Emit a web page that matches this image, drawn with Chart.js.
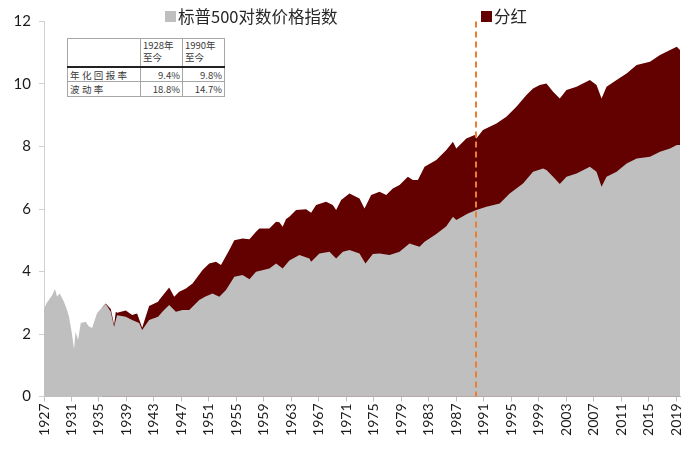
<!DOCTYPE html>
<html>
<head>
<meta charset="utf-8">
<script src="https://cdn.jsdelivr.net/npm/chart.js@4.4.1/dist/chart.umd.min.js"></script>
<style>
  html, body { margin: 0; padding: 0; background: #fff; }
  #wrap { position: relative; width: 685px; height: 450px; overflow: hidden; }
  #legend { position: absolute; top: 4px; left: 0; width: 685px; height: 26px;
    font-family: "Noto Sans CJK SC", sans-serif; font-size: 16.5px; color: #262626; }
  .li { position: absolute; top: 0; white-space: nowrap; line-height: 24px; }
  .sw { display: inline-block; width: 11px; height: 11px; vertical-align: middle; margin-right: 2px; position: relative; top: -2px; }
  #tbl { position: absolute; left: 67px; top: 38px; border-collapse: collapse;
    font-family: "Noto Sans CJK SC", sans-serif; font-size: 9.5px; color: #3a3a3a; background: #fff; }
  #tbl td { border: 1px solid #a6a6a6; padding: 0 2px; line-height: 12px; }
  #tbl tr.h td { height: 27px; border-bottom: 2px solid #222; vertical-align: top; }
  #tbl td.l { width: 68px; letter-spacing: 2.4px; }
  #tbl td.n { width: 37px; text-align: right; }
  #tbl tr.r1 td { height: 13px; }
  #tbl tr.r2 td { height: 14px; }
</style>
</head>
<body>
<div id="wrap">
  <canvas id="c" width="685" height="450"></canvas>
  <div id="legend"></div>
  <table id="tbl"></table>
</div>
<script>
// ---------------- data ----------------
const seriesNames = ["标普500对数价格指数", "分红"];

const priceYears = [1927.0,1927.4,1927.73,1928.2,1928.6,1928.9,1929.3,1929.9,1930.3,1930.64,1931.0,1931.37,1931.6,1931.96,1932.35,1933.08,1933.5,1934.0,1934.73,1935.45,1935.99,1936.72,1937.2,1937.64,1938.9,1939.83,1940.85,1941.29,1942.3,1943.6,1944.4,1945.22,1946.2,1947.16,1948.14,1949.6,1950.5,1951.53,1952.51,1953.49,1954.7,1955.9,1956.9,1957.86,1959.8,1960.78,1961.74,1962.71,1964.17,1965.63,1965.88,1967.09,1968.55,1969.52,1970.49,1971.46,1972.92,1973.79,1974.86,1975.83,1977.29,1978.75,1980.2,1981.66,1982.39,1984.1,1985.56,1986.52,1987.01,1988.7,1989.93,1991.39,1993.33,1994.78,1996.72,1998.18,1999.64,2000.13,2001.1,2002.07,2003.05,2004.51,2006.45,2007.42,2008.15,2008.88,2010.34,2011.8,2013.26,2015.2,2016.66,2018.12,2019.1,2019.57];
const priceValues = [2.8,3.0,3.1,3.25,3.44,3.2,3.3,3.03,2.8,2.55,2.1,1.52,2.07,1.81,2.35,2.39,2.25,2.19,2.67,2.85,2.96,2.71,2.23,2.6,2.55,2.45,2.35,2.13,2.45,2.55,2.75,2.93,2.71,2.77,2.77,3.09,3.2,3.3,3.19,3.41,3.83,3.89,3.75,3.99,4.1,4.26,4.1,4.35,4.53,4.42,4.31,4.58,4.63,4.42,4.63,4.69,4.58,4.26,4.56,4.58,4.53,4.63,4.9,4.79,4.95,5.2,5.45,5.75,5.65,5.86,5.97,6.07,6.18,6.5,6.82,7.19,7.3,7.25,7.03,6.8,7.03,7.14,7.35,7.19,6.71,7.03,7.19,7.46,7.62,7.67,7.83,7.94,8.05,8.05];

const totalYears = [1935.45,1935.99,1936.72,1937.2,1937.45,1937.64,1938.9,1939.83,1940.55,1941.29,1942.3,1943.6,1943.76,1945.22,1945.95,1946.68,1947.66,1948.62,1950.08,1951.05,1952.03,1952.76,1953.97,1954.7,1955.9,1956.9,1957.86,1958.34,1959.8,1960.78,1961.26,1961.74,1962.23,1962.71,1963.69,1965.15,1965.88,1966.6,1968.06,1969.03,1969.52,1970.25,1971.46,1972.92,1973.65,1974.62,1975.83,1976.81,1977.77,1978.75,1979.96,1980.69,1981.42,1982.39,1984.1,1985.56,1986.52,1987.01,1988.47,1989.68,1989.93,1990.89,1992.85,1994.3,1995.76,1997.22,1998.18,1999.16,2000.13,2001.1,2002.07,2003.05,2004.51,2006.45,2007.42,2008.15,2008.88,2010.34,2011.8,2013.26,2015.2,2016.66,2018.12,2019.1,2019.57];
const totalValues = [2.85,2.98,2.8,2.3,2.71,2.68,2.75,2.61,2.66,2.2,2.9,3.03,3.09,3.49,3.19,3.35,3.46,3.62,4.05,4.26,4.31,4.21,4.69,5.0,5.06,5.03,5.27,5.38,5.38,5.59,5.58,5.43,5.68,5.75,5.97,5.99,5.88,6.13,6.23,6.13,5.97,6.29,6.5,6.34,6.02,6.45,6.55,6.45,6.66,6.77,7.03,6.93,6.93,7.35,7.57,7.89,8.15,7.94,8.26,8.37,8.26,8.53,8.74,8.95,9.27,9.65,9.86,9.97,10.02,9.75,9.54,9.81,9.91,10.13,9.97,9.54,9.91,10.13,10.34,10.61,10.71,10.93,11.09,11.19,11.09];

const tickYears = [1927,1931,1935,1939,1943,1947,1951,1955,1959,1963,1967,1971,1975,1979,1983,1987,1991,1995,1999,2003,2007,2011,2015,2019];
const tickLabels = tickYears.map(String);
const yTickValues = [0,2,4,6,8,10,12];
const markerYear = 1989.85;

const tableHeader = ["", "1928年\n至今", "1990年\n至今"];
const tableRows = [["年化回报率", "9.4%", "9.8%"], ["波动率", "18.8%", "14.7%"]];

// ---------------- styles ----------------
const GREY = "#bfbfbf";
const RED = "#630000";
const ORANGE = "#ed7d31";

// legend (HTML)
const legend = document.getElementById("legend");
const legendPos = [165, 481];
[GREY, RED].forEach((col, i) => {
  const d = document.createElement("div");
  d.className = "li";
  d.style.left = legendPos[i] + "px";
  d.innerHTML = '<span class="sw" style="background:' + col + '"></span>' + seriesNames[i];
  legend.appendChild(d);
});

// table (HTML)
const tbl = document.getElementById("tbl");
let html = '<tr class="h">' + tableHeader.map((h, i) => '<td class="' + (i ? 'hn' : 'l') + '">' + h.replace("\n", "<br>") + '</td>').join("") + '</tr>';
tableRows.forEach((r, k) => {
  html += '<tr class="r' + (k + 1) + '">' + r.map((c, i) => '<td class="' + (i ? 'n' : 'l') + '">' + c + '</td>').join("") + '</tr>';
});
tbl.innerHTML = html;

const markerPlugin = {
  id: "marker",
  afterDatasetsDraw(chart) {
    const x = chart.scales.x.getPixelForValue(markerYear);
    const { top, bottom } = chart.chartArea;
    const ctx = chart.ctx;
    ctx.save();
    ctx.strokeStyle = ORANGE;
    ctx.lineWidth = 2;
    ctx.setLineDash([6, 4]);
    ctx.beginPath();
    ctx.moveTo(Math.round(x), top);
    ctx.lineTo(Math.round(x), bottom);
    ctx.stroke();
    ctx.restore();
  }
};

new Chart(document.getElementById("c"), {
  type: "line",
  data: {
    datasets: [
      { label: seriesNames[0], data: priceYears.map((x, i) => ({ x, y: priceValues[i] })),
        backgroundColor: GREY, borderColor: GREY, borderWidth: 0, pointRadius: 0, fill: "origin", tension: 0 },
      { label: seriesNames[1], data: totalYears.map((x, i) => ({ x, y: totalValues[i] })),
        backgroundColor: RED, borderColor: RED, borderWidth: 0, pointRadius: 0, fill: "origin", tension: 0 }
    ]
  },
  options: {
    responsive: false,
    animation: false,
    devicePixelRatio: 1,
    layout: { autoPadding: false, padding: { top: 21.5, right: 5, left: 0, bottom: 0 } },
    plugins: { legend: { display: false }, tooltip: { enabled: false } },
    scales: {
      x: {
        type: "linear",
        min: 1927,
        max: 2019.57,
        afterBuildTicks: (s) => { s.ticks = tickYears.map(v => ({ value: v })); },
        afterFit: (s) => { s.height = 53.5; s.paddingLeft = 0; s.paddingRight = 0; },
        ticks: {
          autoSkip: false, minRotation: 90, maxRotation: 90, padding: 2,
          color: "#1a1a1a", font: { family: "Lato", size: 14 },
          callback: (v) => tickLabels[tickYears.indexOf(v)]
        },
        grid: { display: true, drawOnChartArea: false, drawTicks: true, tickLength: 5, color: "#bfbfbf" },
        border: { display: true, color: "#bfbfbf", width: 1 }
      },
      y: {
        min: 0, max: 12,
        afterBuildTicks: (s) => { s.ticks = yTickValues.map(v => ({ value: v })); },
        afterFit: (s) => { s.width = 44; s.paddingTop = 0; s.paddingBottom = 0; },
        ticks: { color: "#1a1a1a", font: { family: "Lato", size: 15 }, padding: 8 },
        grid: { display: true, drawOnChartArea: false, drawTicks: true, tickLength: 5, color: "#d0d0d0" },
        border: { display: true, color: "#d0d0d0", width: 1 }
      }
    }
  },
  plugins: [markerPlugin]
});
</script>
</body>
</html>
